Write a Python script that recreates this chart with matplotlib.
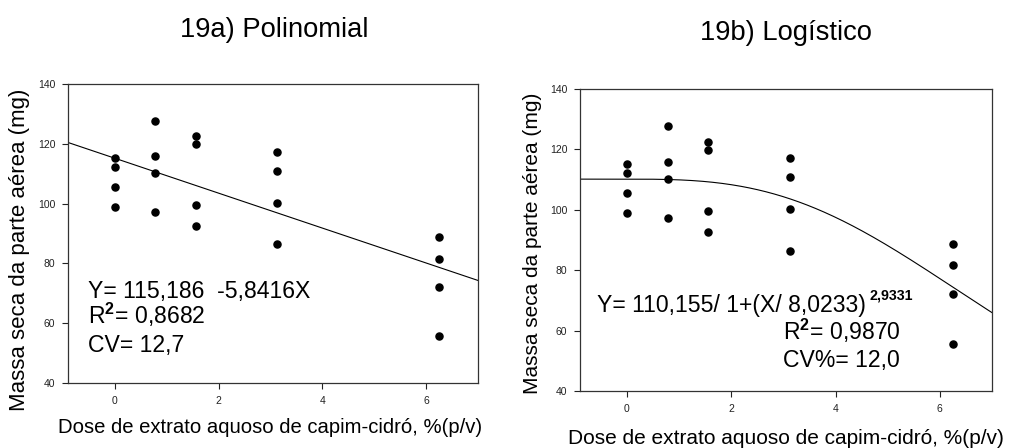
import numpy as np
import matplotlib
matplotlib.use('Agg')
import matplotlib.pyplot as plt

plt.rcParams['font.family'] = ['Liberation Sans', 'DejaVu Sans']
plt.rcParams['mathtext.fontset'] = 'custom'
plt.rcParams['mathtext.rm'] = 'Liberation Sans'
plt.rcParams['mathtext.bf'] = 'Liberation Sans:bold'

# dose levels and observed dry mass (4 reps per dose)
dose = [0, 0.78, 1.56, 3.125, 6.25]
mass = [
    [115.2, 112.3, 105.7, 98.8],
    [127.7, 115.8, 110.3, 97.3],
    [122.6, 119.9, 99.5, 92.5],
    [117.1, 111.0, 100.3, 86.4],
    [88.7, 81.6, 72.0, 55.6],
]

# fitted models
lin_a, lin_b = 115.186, -5.8416
log_a, log_x0, log_b = 110.155, 8.0233, 2.9331

xticks = [0, 2, 4, 6]
yticks = [40, 60, 80, 100, 120, 140]
xlabel = 'Dose de extrato aquoso de capim-cidró, %(p/v)'
ylabel = 'Massa seca da parte aérea (mg)'

W, H = 1011, 448
fig = plt.figure(figsize=(W / 100, H / 100), dpi=100)


def px_axes(l, t, r, b):
    return fig.add_axes([l / W, 1 - b / H, (r - l) / W, (b - t) / H])


def ftext(x, y, s, **kw):
    # place text by pixel position (from top-left)
    return fig.text(x / W, 1 - y / H, s, **kw)


def style(ax):
    ax.set_xlim(-0.9, 7)
    ax.set_ylim(40, 140)
    ax.set_xticks(xticks)
    ax.set_yticks(yticks)
    ax.tick_params(direction='out', length=4, width=0.8, labelsize=7.5,
                   pad=5, colors='#222222')
    for s in ax.spines.values():
        s.set_linewidth(0.9)
        s.set_color('#333333')


xs = np.repeat(dose, 4)
ys = np.array(mass).ravel()
xfit = np.linspace(-0.9, 7, 300)

# ---- 19a) Polinomial
ax1 = px_axes(68, 84, 478, 383)
style(ax1)
ax1.plot(xfit, lin_a + lin_b * xfit, color='black', lw=0.8)
ax1.scatter(xs, ys, s=26, color='black', zorder=3)
fs = 16.6
ftext(88, 298, 'Y= 115,186  -5,8416X', fontsize=fs)
ftext(88, 324, r'R$^{\mathbf{2}}$= 0,8682', fontsize=fs)
ftext(88, 352, 'CV= 12,7', fontsize=fs)

# ---- 19b) Logistico
ax2 = px_axes(580, 89, 992, 391)
style(ax2)
xc = np.clip(xfit, 0, None)
ax2.plot(xfit, log_a / (1 + (xc / log_x0) ** log_b), color='black', lw=0.8)
ax2.scatter(xs, ys, s=26, color='black', zorder=3)
ftext(597, 312, 'Y= 110,155/ 1+(X/ 8,0233)', fontsize=fs)
ftext(869, 299, '2,9331', fontsize=10.3, fontweight='bold')
ftext(783, 340, r'R$^{\mathbf{2}}$= 0,9870', fontsize=fs)
ftext(783, 367, 'CV%= 12,0', fontsize=fs)

# titles and axis labels
ftext(274, 37, '19a) Polinomial', ha='center', va='baseline', fontsize=19.7)
ftext(786, 40, '19b) Logístico', ha='center', va='baseline', fontsize=19.7)
ftext(270, 427, xlabel, ha='center', va='center', fontsize=14.6)
ftext(786, 438, xlabel, ha='center', va='center', fontsize=15)
ftext(20, 250, ylabel, ha='center', va='center', rotation=90, fontsize=16)
ftext(532, 243, ylabel, ha='center', va='center', rotation=90, fontsize=15)

fig.savefig('out.png', dpi=100)
